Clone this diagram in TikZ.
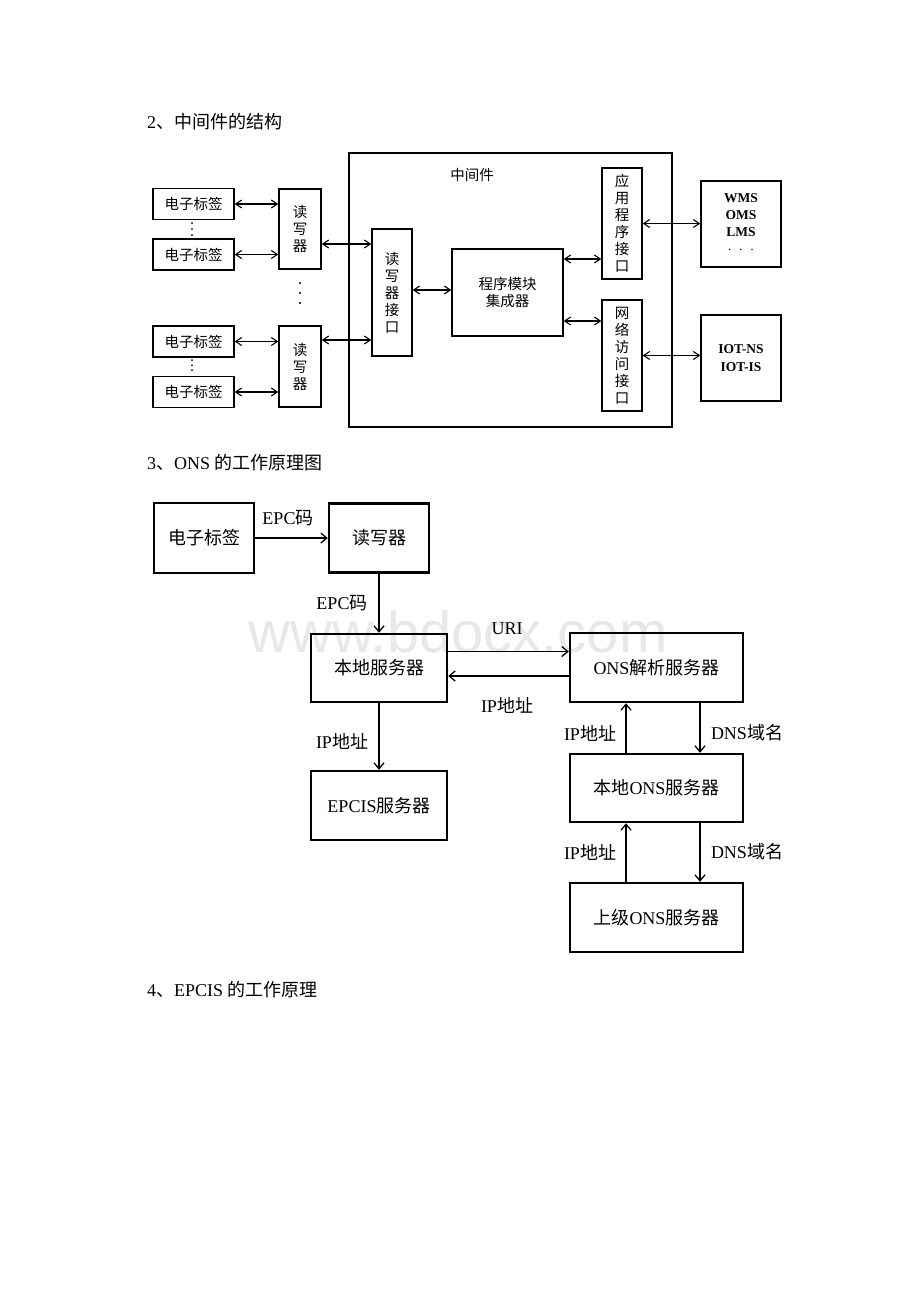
\documentclass[tikz,border=0pt]{standalone}
\usepackage{fontspec}
\setmainfont{Liberation Serif}
\newfontfamily\cjk{Noto Sans CJK SC}
\newfontfamily\wmfont{Liberation Sans}
\usetikzlibrary{arrows.meta}
\newcommand\zh[1]{{\cjk #1}}
\begin{document}
\begin{tikzpicture}[x=1pt,y=-1pt,
  boxa/.style={draw,line width=1.4pt,inner sep=0pt,align=center,font=\cjk\fontsize{14.5}{17}\selectfont},
  boxb/.style={draw,line width=2.4pt,inner sep=0pt,align=center,font=\fontsize{18}{22}\selectfont},
  arra/.style={{Straight Barb[length=6pt,width=8pt]}-{Straight Barb[length=6pt,width=8pt]},line width=1.1pt},
  arrb/.style={-{Straight Barb[length=6pt,width=10pt]},line width=1.3pt},
  lab/.style={inner sep=0pt,font=\fontsize{18}{22}\selectfont},
  head/.style={anchor=west,inner sep=0pt,font=\fontsize{18}{20}\selectfont}]
\useasboundingbox (0,0) rectangle (920,1302);
\fill[white] (0,0) rectangle (920,1302);
% watermark
\node[anchor=base,inner sep=0pt,text=black!9,font=\wmfont\fontsize{58}{60}\selectfont] (wm) at (458,652) {www.bdocx.com};

% headings
\node[head] (h2) at (147,122) {2\zh{、中间件的结构}};
\node[head] (h3) at (147,463) {3\zh{、}ONS \zh{的工作原理图}};
\node[head] (h4) at (147,990) {4\zh{、}EPCIS \zh{的工作原理}};

% ---------- diagram 1 ----------
\node[boxa,minimum width=323pt,minimum height=274pt] (mw) at (510.5,290) {};
\node[inner sep=0pt,font=\cjk\fontsize{14.5}{17}\selectfont] (mwl) at (472,175) {中间件};

\node[boxa,minimum width=81pt,minimum height=31pt] (t1) at (193.5,204) {电子标签};
\node[boxa,minimum width=81pt,minimum height=31pt] (t2) at (193.5,254.5) {电子标签};
\node[boxa,minimum width=81pt,minimum height=31pt] (t3) at (193.5,341.5) {电子标签};
\node[boxa,minimum width=81pt,minimum height=31pt] (t4) at (193.5,392) {电子标签};

\node[boxa,minimum width=42pt,minimum height=80pt] (r1) at (300,229) {读\\写\\器};
\node[boxa,minimum width=42pt,minimum height=81pt] (r2) at (300,366.5) {读\\写\\器};

\node[boxa,minimum width=40pt,minimum height=127pt] (rif) at (392,292.5) {读\\写\\器\\接\\口};
\node[boxa,minimum width=111pt,minimum height=87pt] (pm) at (507.5,292.5) {程序模块\\集成器};
\node[boxa,minimum width=40pt,minimum height=111pt] (app) at (622,223.5) {应\\用\\程\\序\\接\\口};
\node[boxa,minimum width=40pt,minimum height=111pt] (net) at (622,355.5) {网\\络\\访\\问\\接\\口};
\node[boxa,minimum width=80pt,minimum height=86pt,font=\bfseries\fontsize{13.5}{17}\selectfont] (wms) at (741,224) {WMS\\OMS\\LMS\\$\cdot\;\cdot\;\cdot$};
\node[boxa,minimum width=80pt,minimum height=86pt,font=\bfseries\fontsize{13.5}{18}\selectfont] (iot) at (741,358) {IOT-NS\\IOT-IS};

\draw[arra] (t1.east) -- (t1.east -| r1.west);
\draw[arra] (t2.east) -- (t2.east -| r1.west);
\draw[arra] (t3.east) -- (t3.east -| r2.west);
\draw[arra] (t4.east) -- (t4.east -| r2.west);
\draw[arra] ([yshift=-15pt]r1.east) -- ([yshift=-15pt]r1.east -| rif.west);
\draw[arra] ([yshift=26.5pt]r2.east) -- ([yshift=26.5pt]r2.east -| rif.west);
\draw[arra] ([yshift=2.5pt]rif.east) -- ([yshift=2.5pt]rif.east -| pm.west);
\draw[arra] ([yshift=33.5pt]pm.east) -- ([yshift=33.5pt]pm.east -| app.west);
\draw[arra] ([yshift=-28.5pt]pm.east) -- ([yshift=-28.5pt]pm.east -| net.west);
\draw[arra] (app.east) -- (app.east -| wms.west);
\draw[arra] (net.east) -- (net.east -| iot.west);

\foreach \yy in {223,229,235} \fill (192,\yy) circle (1pt);
\foreach \yy in {360,365,370} \fill (192,\yy) circle (1pt);
\foreach \yy in {283,293,303} \fill (300,\yy) circle (1.1pt);

% ---------- diagram 2 ----------
\node[boxb,minimum width=100pt,minimum height=70pt] (e1) at (204,538) {\zh{电子标签}};
\node[boxb,minimum width=100pt,minimum height=69pt] (e2) at (379,538) {\zh{读写器}};
\node[boxb,minimum width=136pt,minimum height=68pt] (e3) at (379,668) {\zh{本地服务器}};
\node[boxb,minimum width=136pt,minimum height=69pt] (e4) at (379,805.5) {EPCIS\zh{服务器}};
\node[boxb,minimum width=173pt,minimum height=69pt] (e5) at (656.5,667.5) {ONS\zh{解析服务器}};
\node[boxb,minimum width=173pt,minimum height=68pt] (e6) at (656.5,788) {\zh{本地}ONS\zh{服务器}};
\node[boxb,minimum width=173pt,minimum height=69pt] (e7) at (656.5,917.5) {\zh{上级}ONS\zh{服务器}};

\draw[arrb] (e1.east) -- (e1.east -| e2.west);
\draw[arrb] (e2.south) -- (e3.north);
\draw[arrb] ([yshift=16.5pt]e3.east) -- ([yshift=16.5pt]e3.east -| e5.west);
\draw[arrb] ([yshift=-8pt]e3.east -| e5.west) -- ([yshift=-8pt]e3.east);
\draw[arrb] (e3.south) -- (e4.north);
\draw[arrb] ([xshift=-30.5pt]e6.north) -- ([xshift=-30.5pt]e5.south);
\draw[arrb] ([xshift=43.5pt]e5.south) -- ([xshift=43.5pt]e6.north);
\draw[arrb] ([xshift=-30.5pt]e7.north) -- ([xshift=-30.5pt]e6.south);
\draw[arrb] ([xshift=43.5pt]e6.south) -- ([xshift=43.5pt]e7.north);

\node[lab] (l1) at (288,518) {EPC\zh{码}};
\node[lab] (l2) at (342,603) {EPC\zh{码}};
\node[lab] (l3) at (507,629) {URI};
\node[lab] (l4) at (507,705) {IP\zh{地址}};
\node[lab] (l5) at (342,741) {IP\zh{地址}};
\node[lab] (l6) at (590,733) {IP\zh{地址}};
\node[lab] (l7) at (747,733) {DNS\zh{域名}};
\node[lab] (l8) at (590,852) {IP\zh{地址}};
\node[lab] (l9) at (747,852) {DNS\zh{域名}};
\end{tikzpicture}
\end{document}
